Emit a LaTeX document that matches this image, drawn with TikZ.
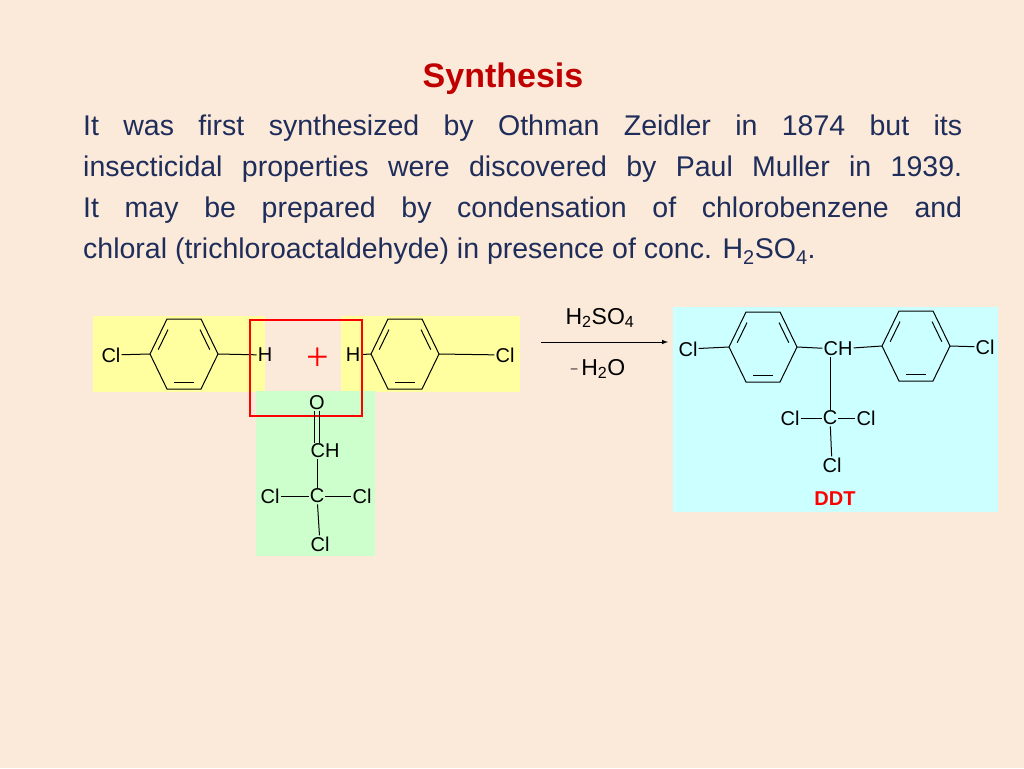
\documentclass[tikz,border=0pt]{standalone}
\usepackage{fontspec}
\setmainfont{Liberation Sans}
\newfontfamily\plusfont{Liberation Serif}
\usetikzlibrary{calc}
\definecolor{bgColor}{RGB}{251,233,218}
\definecolor{titleColor}{RGB}{192,0,0}
\definecolor{textColor}{RGB}{31,45,90}
\definecolor{yellowColor}{RGB}{255,255,160}
\definecolor{greenColor}{RGB}{204,255,204}
\definecolor{cyanColor}{RGB}{204,255,255}
% benzene ring: name, centre
\newcommand{\benzring}[2]{%
  \coordinate (#1-c) at (#2);
  \coordinate (#1-l) at ($(#2)+(-34,0)$);
  \coordinate (#1-tl) at ($(#2)+(-17,-35)$);
  \coordinate (#1-tr) at ($(#2)+(17,-35)$);
  \coordinate (#1-r) at ($(#2)+(34,0)$);
  \coordinate (#1-br) at ($(#2)+(17,35)$);
  \coordinate (#1-bl) at ($(#2)+(-17,35)$);
  \draw[bond] (#1-l) -- (#1-tl) -- (#1-tr) -- (#1-r) -- (#1-br) -- (#1-bl) -- cycle;
  \innerbond{#1}{l}{tl}
  \innerbond{#1}{tr}{r}
  \innerbond{#1}{br}{bl}
}
\newcommand{\innerbond}[3]{%
  \draw[bond] ($($(#1-#2)!0.15!(#1-#3)$)!0.18!(#1-c)$) -- ($($(#1-#3)!0.15!(#1-#2)$)!0.18!(#1-c)$);
}
\begin{document}
\begin{tikzpicture}[x=1pt,y=-1pt,
  bond/.style={draw=black,line width=1pt},
  atom/.style={inner sep=1pt,font=\fontsize{20}{20}\selectfont},
  body/.style={text=textColor,font=\fontsize{28.5}{41}\selectfont}]
\useasboundingbox[fill=bgColor] (0,0) rectangle (1024,768);

% heading and text
\node[text=titleColor,font=\fontsize{34}{34}\selectfont\bfseries] (title) at (503,79) {Synthesis};
\node[body,anchor=north west,inner sep=0pt,text width=879pt,align=justify] (para) at (83,115)
  {It was first synthesized by Othman Zeidler in 1874 but its\linebreak
   insecticidal properties were discovered by Paul Muller in 1939.\linebreak
   It may be prepared by condensation of chlorobenzene and\linebreak
   chloral (trichloroactaldehyde) in presence of conc. H\textsubscript{2}SO\textsubscript{4}.};

% backgrounds
\fill[yellowColor] (93,316) rectangle (265,392);
\fill[yellowColor] (341,316) rectangle (520,392);
\fill[greenColor] (256,391) rectangle (375,556);
\fill[cyanColor] (673,307) rectangle (998,512);

% chlorobenzene, left
\benzring{ringA}{184,354}
\node[atom] (clA) at (111,355) {Cl};
\node[atom] (hA) at (265,355) {H};
\draw[bond] (clA) -- (ringA-l);
\draw[bond] (ringA-r) -- (hA);

% chlorobenzene, right
\benzring{ringB}{405,354}
\node[atom] (hB) at (353,355) {H};
\node[atom] (clB) at (505,355) {Cl};
\draw[bond] (hB) -- (ringB-l);
\draw[bond] (ringB-r) -- (clB);

\node[text=red,font=\fontsize{40}{40}\plusfont] (plus) at (318,359) {+};
\draw[red,line width=1.2pt] (250,320) rectangle (362,416);

% chloral
\node[atom] (oC) at (317,403) {O};
\node[atom] (chC) at (325,451) {CH};
\node[atom] (cC) at (317,496) {C};
\node[atom] (clC1) at (270,496) {Cl};
\node[atom] (clC2) at (362,496) {Cl};
\node[atom] (clC3) at (320,544) {Cl};
\draw[bond] ([xshift=-2.5pt]oC.south) -- ([xshift=-10.5pt]chC.north);
\draw[bond] ([xshift=2.5pt]oC.south) -- ([xshift=-5.5pt]chC.north);
\draw[bond] ([xshift=-8pt]chC.south) -- (cC);
\draw[bond] (clC1) -- (cC) -- (clC2);
\draw[bond] (cC) -- (clC3);

% reaction arrow
\coordinate (arrS) at (541,342);
\coordinate (arrE) at (668,342);
\draw[bond,-latex] (arrS) -- (arrE);
\node[atom,font=\fontsize{23}{23}\selectfont] (acid) at (600,318) {H\textsubscript{2}SO\textsubscript{4}};
\node[atom,font=\fontsize{23}{23}\selectfont] (water) at (598,369) {\raisebox{3pt}{\fontsize{12}{12}\selectfont\textendash}\,H\textsubscript{2}O};

% DDT
\benzring{ringC}{763,347}
\benzring{ringD}{916,346}
\node[atom] (clD1) at (688,349) {Cl};
\node[atom] (chD) at (838,349) {CH};
\node[atom] (clD2) at (985,347) {Cl};
\node[atom] (cD) at (830,418) {C};
\node[atom] (clD3) at (790,418) {Cl};
\node[atom] (clD4) at (866,418) {Cl};
\node[atom] (clD5) at (832,465) {Cl};
\draw[bond] (clD1) -- (ringC-l);
\draw[bond] (ringC-r) -- (chD);
\draw[bond] (chD) -- (ringD-l);
\draw[bond] (ringD-r) -- (clD2);
\draw[bond] ([xshift=-8pt]chD.south) -- (cD);
\draw[bond] (clD3) -- (cD) -- (clD4);
\draw[bond] (cD) -- (clD5);
\node[text=red,font=\fontsize{20}{20}\selectfont\bfseries] (ddt) at (835,499) {DDT};
\end{tikzpicture}
\end{document}
